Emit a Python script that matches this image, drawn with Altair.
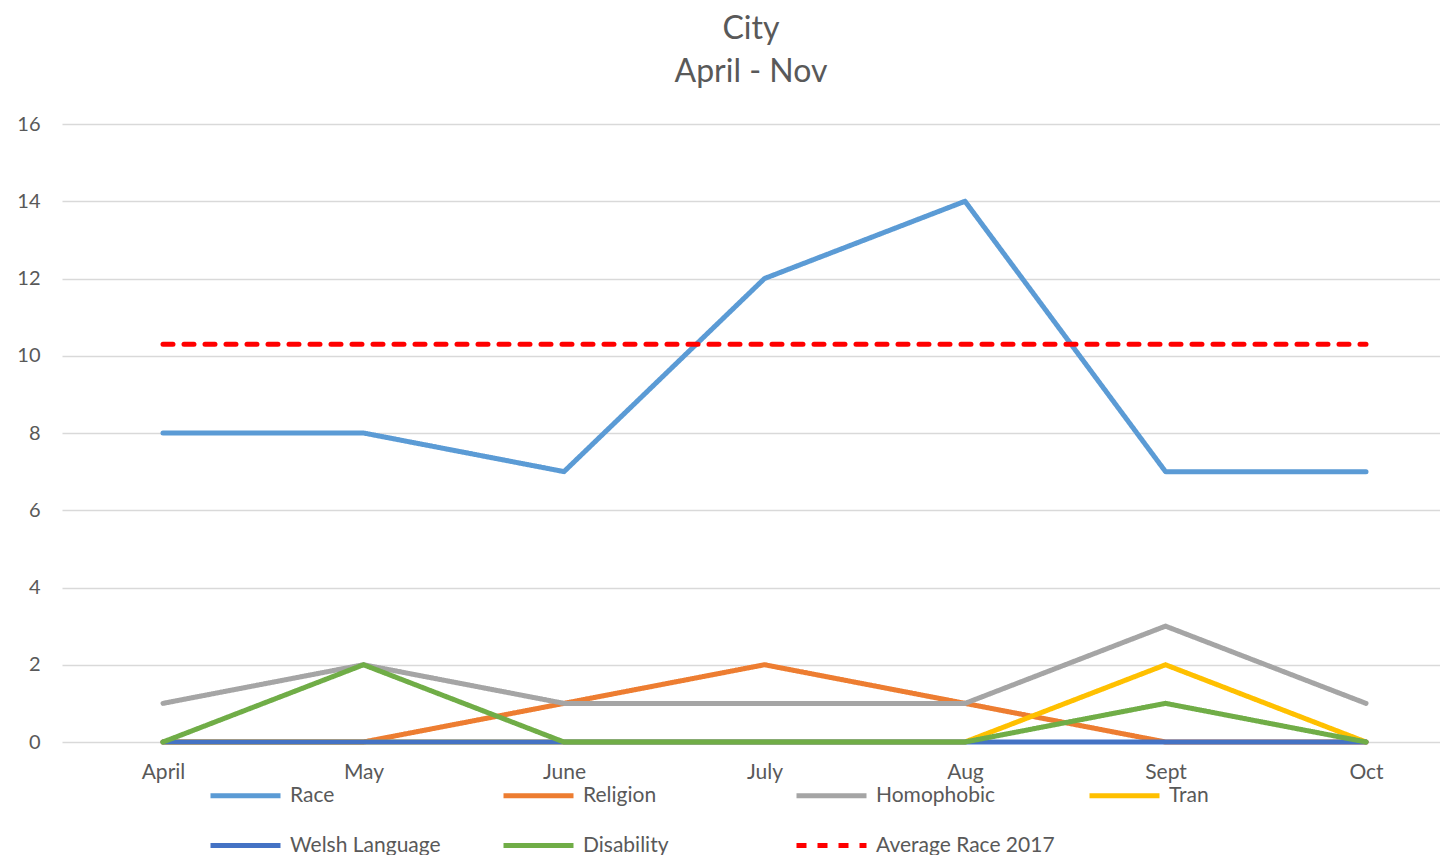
import altair as alt
import pandas as pd

months = ["April", "May", "June", "July", "Aug", "Sept", "Oct"]
series_names = ["Race", "Religion", "Homophobic", "Tran", "Welsh Language", "Disability", "Average Race  2017"]
race = [8, 8, 7, 12, 14, 7, 7]
religion = [0, 0, 1, 2, 1, 0, 0]
homophobic = [1, 2, 1, 1, 1, 3, 1]
tran = [0, 0, 0, 0, 0, 2, 0]
welsh = [0, 0, 0, 0, 0, 0, 0]
disability = [0, 2, 0, 0, 0, 1, 0]
average_race = [10.3, 10.3, 10.3, 10.3, 10.3, 10.3, 10.3]
y_ticks = [0, 2, 4, 6, 8, 10, 12, 14, 16]
month_index = [0, 1, 2, 3, 4, 5, 6]

colors = ["#5B9BD5", "#ED7D31", "#A5A5A5", "#FFC000", "#4472C4", "#70AD47", "#FF0000"]
dashes = [[1, 0], [1, 0], [1, 0], [1, 0], [1, 0], [1, 0], [10, 11]]

values = [race, religion, homophobic, tran, welsh, disability, average_race]
rows = []
for si, (name, vals) in enumerate(zip(series_names, values)):
    for mi, (m, v) in enumerate(zip(months, vals)):
        rows.append({"series": name, "month": m, "value": v, "s": si, "m": month_index[mi]})
df = pd.DataFrame(rows)

FONT = "Lato"
TXT = "#595959"
label_expr = "[" + ",".join("'" + m + "'" for m in months) + "][datum.value]"

legend = alt.Legend(
    title=None,
    orient="none",
    legendX=146,
    legendY=634,
    direction="horizontal",
    columns=4,
    gridAlign="all",
    columnPadding=19,
    symbolType="stroke",
    symbolSize=4900,
    symbolStrokeWidth=5,
    labelFontSize=21,
    labelFont=FONT,
    labelColor=TXT,
    labelOffset=7,
    labelLimit=300,
)

chart = (
    alt.Chart(df)
    .mark_line(strokeWidth=5, strokeCap="round", strokeJoin="round")
    .encode(
        x=alt.X(
            "m:Q",
            scale=alt.Scale(domain=[-0.5037, 6.369], nice=False, zero=False),
            axis=alt.Axis(
                title=None,
                values=month_index,
                labelExpr=label_expr,
                labelAngle=0,
                labelFontSize=21,
                labelFont=FONT,
                labelColor=TXT,
                labelPadding=19,
                ticks=False,
                domain=False,
                grid=False,
            ),
        ),
        y=alt.Y(
            "value:Q",
            scale=alt.Scale(domain=[0, 16], nice=False),
            axis=alt.Axis(
                title=None,
                values=y_ticks,
                labelFontSize=20,
                labelFont=FONT,
                labelColor=TXT,
                labelPadding=22,
                ticks=False,
                domain=False,
                gridColor="#D9D9D9",
                gridWidth=1.5,
            ),
        ),
        color=alt.Color(
            "series:N",
            sort=series_names,
            scale=alt.Scale(domain=series_names, range=colors),
            legend=legend,
        ),
        strokeDash=alt.StrokeDash(
            "series:N",
            sort=series_names,
            scale=alt.Scale(domain=series_names, range=dashes),
            legend=legend,
        ),
        order="m:Q",
    )
    .properties(
        width=1378,
        height=618,
        title=alt.TitleParams(
            text="City",
            subtitle="April - Nov",
            fontSize=32,
            subtitleFontSize=32,
            font=FONT,
            subtitleFont=FONT,
            fontWeight="normal",
            subtitleFontWeight="normal",
            color=TXT,
            subtitleColor=TXT,
            subtitlePadding=11,
            offset=25,
            anchor="middle",
        ),
        padding={"left": 8, "top": 5, "right": 0, "bottom": 0},
    )
    .configure_view(stroke=None)
)

chart.save("out.html", embed_options={"renderer": "svg", "actions": False})
